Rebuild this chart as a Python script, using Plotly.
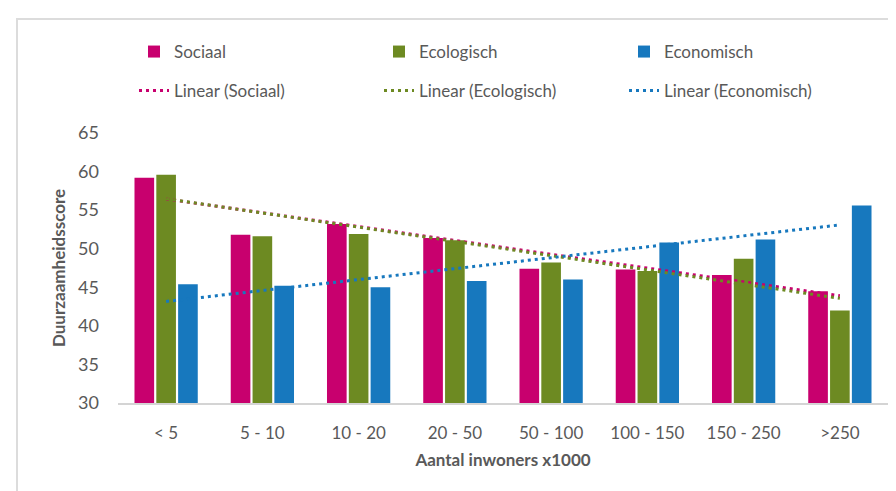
import numpy as np
import plotly.graph_objects as go

categories = ["< 5", "5 - 10", "10 - 20", "20 - 50", "50 - 100", "100 - 150", "150 - 250", ">250"]
sociaal = [59.2, 51.8, 53.2, 51.4, 47.4, 47.3, 46.6, 44.5]
ecologisch = [59.6, 51.6, 51.9, 51.1, 48.2, 47.1, 48.7, 42.0]
economisch = [45.4, 45.2, 45.0, 45.8, 46.0, 50.8, 51.2, 55.6]

series_names = ["Sociaal", "Ecologisch", "Economisch"]
series_values = [sociaal, ecologisch, economisch]
colors = ["#C8006E", "#6D8A22", "#1778BE"]

FONT = "Lato"
TXT = "#595959"

W, H = 896, 491
ML, MR, MT, MB = 110, 16, 125, 96
PW = W - ML - MR
PH = H - MT - MB


def px_x(p):
    return (p - ML) / PW


def px_y(p):
    return (H - MB - p) / PH


fig = go.Figure()

for name, vals, col in zip(series_names, series_values, colors):
    fig.add_trace(go.Bar(
        x=categories, y=vals, name=name, marker=dict(color=col, line=dict(width=0)),
        legend="legend",
    ))

xi = np.arange(1, len(categories) + 1)
for name, vals, col in zip(series_names, series_values, colors):
    slope, inter = np.polyfit(xi, np.array(vals), 1)
    trend = slope * xi + inter
    fig.add_trace(go.Scatter(
        x=categories, y=trend, mode="lines", name=f"Linear ({name})",
        line=dict(color=col, width=3, dash="3px,4px"), legend="legend2",
    ))

legend_common = dict(
    orientation="h", xanchor="left", yanchor="middle",
    font=dict(family=FONT, size=17, color=TXT),
    bgcolor="rgba(0,0,0,0)", entrywidth=200, traceorder="normal",
)

fig.update_layout(
    width=W, height=H,
    margin=dict(l=ML, r=MR, t=MT, b=MB, autoexpand=False),
    paper_bgcolor="white", plot_bgcolor="white",
    barmode="group", bargap=0.32, bargroupgap=0.1,
    font=dict(family=FONT, color=TXT),
    legend=dict(x=px_x(126), y=px_y(44), **legend_common),
    legend2=dict(x=px_x(126), y=px_y(83), **legend_common),
    xaxis=dict(
        showgrid=False, showline=True, linecolor="#D4D4D4", linewidth=2,
        ticks="", tickfont=dict(family=FONT, size=17, color=TXT),
        ticklabelstandoff=14, automargin=False,
        title=dict(text="Aantal inwoners x1000", font=dict(family=FONT, size=17, color=TXT, weight="bold"), standoff=12),
    ),
    yaxis=dict(
        range=[30, 65], dtick=5, showgrid=False, showline=False, zeroline=False,
        ticks="", tickfont=dict(family=FONT, size=18, color=TXT),
        ticklabelstandoff=18, automargin=False,
        title=dict(text="Duurzaamheidsscore", font=dict(family=FONT, size=17, color=TXT, weight="bold"), standoff=8),
    ),
    shapes=[dict(
        type="rect", xref="paper", yref="paper",
        x0=px_x(9), x1=px_x(905), y0=px_y(500), y1=px_y(11),
        line=dict(color="#DCDCDC", width=2), fillcolor="rgba(0,0,0,0)", layer="below",
    )],
    showlegend=True,
)

fig.write_html("out.html")
